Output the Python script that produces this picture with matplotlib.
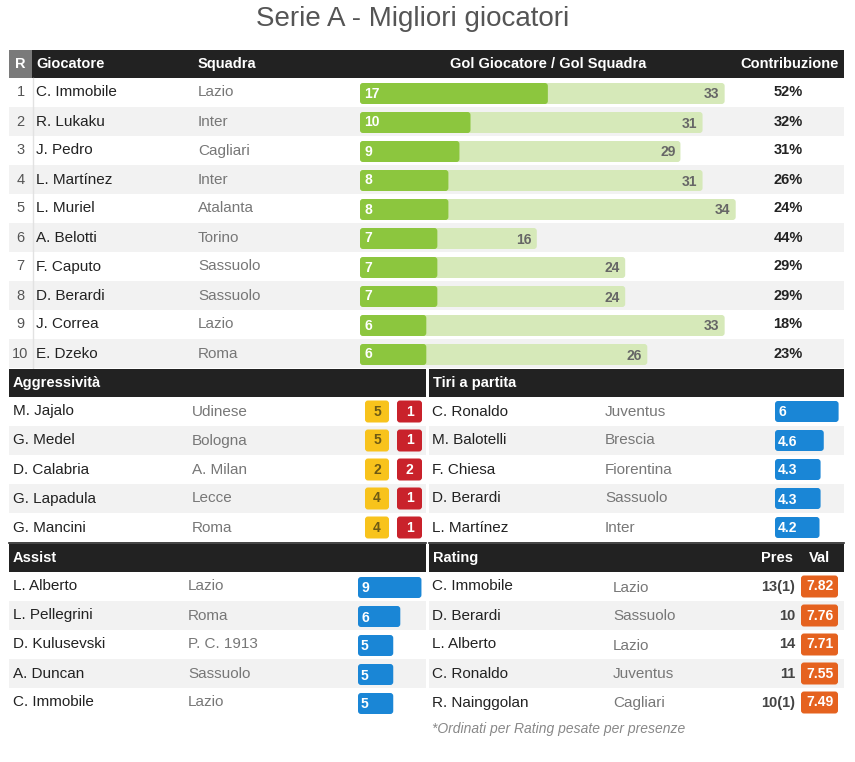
import matplotlib
matplotlib.use("Agg")
import matplotlib.pyplot as plt
from matplotlib.patches import Rectangle, FancyBboxPatch

plt.rcParams['font.family'] = ['Liberation Sans', 'DejaVu Sans']

# ---------------- dati ----------------
rank = [1, 2, 3, 4, 5, 6, 7, 8, 9, 10]
giocatori = ["C. Immobile", "R. Lukaku", "J. Pedro", "L. Martínez", "L. Muriel",
             "A. Belotti", "F. Caputo", "D. Berardi", "J. Correa", "E. Dzeko"]
squadre = ["Lazio", "Inter", "Cagliari", "Inter", "Atalanta",
           "Torino", "Sassuolo", "Sassuolo", "Lazio", "Roma"]
gol_giocatore = [17, 10, 9, 8, 8, 7, 7, 7, 6, 6]
gol_squadra = [33, 31, 29, 31, 34, 16, 24, 24, 33, 26]
contribuzione = [52, 32, 31, 26, 24, 44, 29, 29, 18, 23]

aggr_giocatori = ["M. Jajalo", "G. Medel", "D. Calabria", "G. Lapadula", "G. Mancini"]
aggr_squadre = ["Udinese", "Bologna", "A. Milan", "Lecce", "Roma"]
aggr_gialli = [5, 5, 2, 4, 4]
aggr_rossi = [1, 1, 2, 1, 1]

tiri_giocatori = ["C. Ronaldo", "M. Balotelli", "F. Chiesa", "D. Berardi", "L. Martínez"]
tiri_squadre = ["Juventus", "Brescia", "Fiorentina", "Sassuolo", "Inter"]
tiri_valori = [6, 4.6, 4.3, 4.3, 4.2]

assist_giocatori = ["L. Alberto", "L. Pellegrini", "D. Kulusevski", "A. Duncan", "C. Immobile"]
assist_squadre = ["Lazio", "Roma", "P. C. 1913", "Sassuolo", "Lazio"]
assist_valori = [9, 6, 5, 5, 5]

rating_giocatori = ["C. Immobile", "D. Berardi", "L. Alberto", "C. Ronaldo", "R. Nainggolan"]
rating_squadre = ["Lazio", "Sassuolo", "Lazio", "Juventus", "Cagliari"]
rating_pres = ["13(1)", "10", "14", "11", "10(1)"]
rating_val = [7.82, 7.76, 7.71, 7.55, 7.49]

# ---------------- stile ----------------
SCURO = "#222222"
GRIGIO_R = "#7a7a7a"
RIGA_ALT = "#f2f2f2"
VERDE = "#8cc63e"
VERDE_CH = "#d6e9b9"
GIALLO = "#f8c31c"
ROSSO = "#c9222b"
BLU = "#1a86d6"
ARANCIO = "#e5621f"
TXT = "#222222"
TXT_SQ = "#777777"
FS = 11
FS_H = 10.5
RH = 29  # altezza riga

fig = plt.figure(figsize=(8.55, 7.62), dpi=100)
ax = fig.add_axes([0, 0, 1, 1])
ax.set_xlim(0, 855)
ax.set_ylim(762, 0)
ax.axis('off')


def rect(x, y, w, h, c, z=1):
    ax.add_patch(Rectangle((x, y), w, h, facecolor=c, edgecolor='none', zorder=z))


def box(x, yc, w, h, c, z=3, r=3):
    ax.add_patch(FancyBboxPatch((x, yc - h / 2), w, h,
                                boxstyle="round,pad=0,rounding_size=%g" % r,
                                facecolor=c, edgecolor='none', zorder=z))


def righe(x0, x1, y0, n):
    for i in range(n):
        if i % 2 == 1:
            rect(x0, y0 + i * RH, x1 - x0, RH, RIGA_ALT)


def header(x0, x1, y0, titolo):
    rect(x0, y0, x1 - x0, 28, SCURO, 2)
    ax.text(x0 + 4, y0 + 14, titolo, color='white', fontsize=FS_H,
            fontweight='bold', va='center', ha='left', zorder=4)


# titolo
ax.text(413, 19, "Serie A - Migliori giocatori", fontsize=20, color="#555555",
        ha='center', va='center')

# ---------------- tabella principale ----------------
X0, X1 = 9, 844
Y0 = 50
rect(X0, Y0, X1 - X0, 28, SCURO, 2)
rect(X0, Y0, 23, 28, GRIGIO_R, 3)
hy = Y0 + 14
ax.text(20.5, hy, "R", color='white', fontsize=FS_H, fontweight='bold', ha='center', va='center', zorder=4)
ax.text(36, hy, "Giocatore", color='white', fontsize=FS_H, fontweight='bold', ha='left', va='center', zorder=4)
ax.text(198, hy, "Squadra", color='white', fontsize=FS_H, fontweight='bold', ha='left', va='center', zorder=4)
ax.text(548, hy, "Gol Giocatore / Gol Squadra", color='white', fontsize=FS_H, fontweight='bold',
        ha='center', va='center', zorder=4)
ax.text(790, hy, "Contribuzione", color='white', fontsize=FS_H, fontweight='bold',
        ha='center', va='center', zorder=4)

ry0 = Y0 + 28
righe(X0, X1, ry0, len(giocatori))
ax.plot([32.5, 32.5], [ry0, ry0 + RH * len(giocatori)], color="#e2e2e2", lw=1, zorder=2)
SC = 11.05
BX = 360
for i in range(len(giocatori)):
    yc = ry0 + i * RH + RH / 2
    ax.text(20.5, yc, str(rank[i]), fontsize=10.5, color="#555555", ha='center', va='center', zorder=3)
    ax.text(36, yc, giocatori[i], fontsize=FS, color=TXT, ha='left', va='center')
    ax.text(198, yc, squadre[i], fontsize=FS, color=TXT_SQ, ha='left', va='center')
    box(BX, yc + 1, gol_squadra[i] * SC, 21, VERDE_CH, 3)
    box(BX, yc + 1, gol_giocatore[i] * SC, 21, VERDE, 4)
    ax.text(BX + 4, yc + 1, str(gol_giocatore[i]), fontsize=10, fontweight='bold',
            color='white', ha='left', va='center', zorder=5)
    ax.text(BX + gol_squadra[i] * SC - 5, yc + 2, str(gol_squadra[i]), fontsize=10,
            fontweight='bold', color="#666666", ha='right', va='center', zorder=5)
    ax.text(788, yc, "%d%%" % contribuzione[i], fontsize=FS_H, fontweight='bold',
            color=TXT, ha='center', va='center')

# ---------------- aggressivita ----------------
L0, L1 = 9, 426
R0, R1 = 429, 844
S1 = 369
header(L0, L1, S1, "Aggressività")
righe(L0, L1, S1 + 28, 5)
for i in range(5):
    yc = S1 + 28 + i * RH + RH / 2
    ax.text(13, yc, aggr_giocatori[i], fontsize=FS, color=TXT, ha='left', va='center')
    ax.text(192, yc, aggr_squadre[i], fontsize=FS, color=TXT_SQ, ha='left', va='center')
    box(365, yc, 24, 22, GIALLO)
    ax.text(377, yc, str(aggr_gialli[i]), fontsize=10, fontweight='bold', color="#6e5a14",
            ha='center', va='center', zorder=5)
    box(397, yc, 25, 22, ROSSO)
    ax.text(409.5, yc, str(aggr_rossi[i]), fontsize=10, fontweight='bold', color='white',
            ha='center', va='center', zorder=5)
ax.plot([L0, L1], [S1 + 28 + 5 * RH + 1, S1 + 28 + 5 * RH + 1], color=SCURO, lw=1.2)

# ---------------- tiri a partita ----------------
header(R0, R1, S1, "Tiri a partita")
righe(R0, R1, S1 + 28, 5)
for i in range(5):
    yc = S1 + 28 + i * RH + RH / 2
    ax.text(432, yc, tiri_giocatori[i], fontsize=FS, color=TXT, ha='left', va='center')
    ax.text(605, yc, tiri_squadre[i], fontsize=FS, color=TXT_SQ, ha='left', va='center')
    box(775, yc, tiri_valori[i] * 10.6, 21, BLU)
    ax.text(778, yc + 1, "%g" % tiri_valori[i], fontsize=10, fontweight='bold', color='white',
            ha='left', va='center', zorder=5)
ax.plot([R0, R1], [S1 + 28 + 5 * RH + 1, S1 + 28 + 5 * RH + 1], color=SCURO, lw=1.2)

# ---------------- assist ----------------
S2 = 544
header(L0, L1, S2, "Assist")
righe(L0, L1, S2 + 28, 5)
for i in range(5):
    yc = S2 + 28 + i * RH + RH / 2
    ax.text(13, yc, assist_giocatori[i], fontsize=FS, color=TXT, ha='left', va='center')
    ax.text(188, yc, assist_squadre[i], fontsize=FS, color=TXT_SQ, ha='left', va='center')
    box(358, yc + 1, assist_valori[i] * 7.05, 21, BLU)
    ax.text(361, yc + 2, str(assist_valori[i]), fontsize=10, fontweight='bold', color='white',
            ha='left', va='center', zorder=5)

# ---------------- rating ----------------
header(R0, R1, S2, "Rating")
ax.text(777, S2 + 14, "Pres", color='white', fontsize=FS_H, fontweight='bold',
        ha='center', va='center', zorder=4)
ax.text(819, S2 + 14, "Val", color='white', fontsize=FS_H, fontweight='bold',
        ha='center', va='center', zorder=4)
righe(R0, R1, S2 + 28, 5)
for i in range(5):
    yc = S2 + 28 + i * RH + RH / 2
    ax.text(432, yc, rating_giocatori[i], fontsize=FS, color=TXT, ha='left', va='center')
    ax.text(613, yc + 1, rating_squadre[i], fontsize=FS, color=TXT_SQ, ha='left', va='center')
    ax.text(795, yc, rating_pres[i], fontsize=FS_H, fontweight='bold', color="#444444",
            ha='right', va='center')
    box(801, yc, 37, 22, ARANCIO)
    ax.text(819.5, yc, "%.2f" % rating_val[i], fontsize=10, fontweight='bold', color='white',
            ha='center', va='center', zorder=5)

ax.text(432, 729, "*Ordinati per Rating pesate per presenze", fontsize=10, style='italic',
        color="#888888", ha='left', va='center')

fig.savefig("out.png", dpi=100, facecolor='white')
